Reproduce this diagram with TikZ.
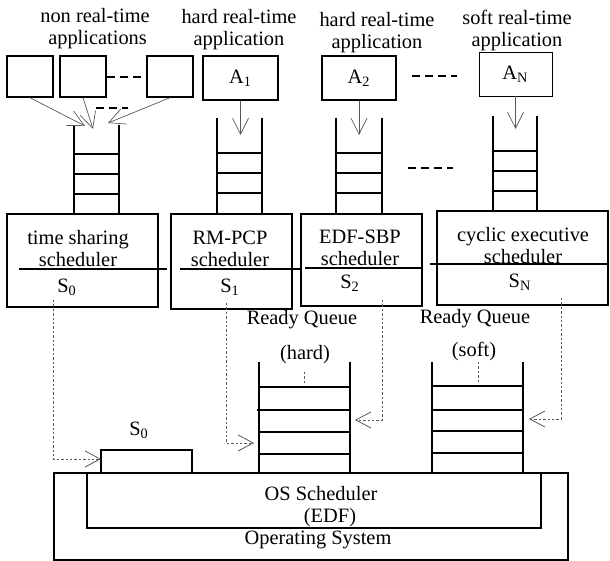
\documentclass[tikz,border=0pt]{standalone}
\usepackage{fontspec}
\setmainfont{Liberation Serif}
\usetikzlibrary{arrows.meta}
\begin{document}
\begin{tikzpicture}[x=0.5pt,y=-0.5pt,
  thk/.style={line width=0.7pt},
  box/.style={draw, line width=0.7pt, inner sep=0pt},
  thinbox/.style={draw, line width=0.4pt, inner sep=0pt},
  lbl/.style={inner sep=0pt, align=center, font=\fontsize{10.2}{11}\selectfont},
  arr/.style={draw=black!65, line width=0.35pt, -{Straight Barb[length=8pt,width=8pt]}},
  dotarr/.style={draw=black!65, line width=0.4pt, dash pattern=on 1.2pt off 1pt, -{Straight Barb[length=7.5pt,width=8pt]}},
  dotln/.style={draw=black!65, line width=0.4pt, dash pattern=on 1.2pt off 1pt},
  dsh/.style={line width=0.7pt, dash pattern=on 4pt off 2.5pt}]
\useasboundingbox (0,0) rectangle (610,561);

% top labels
\node[lbl] (l0) at (95,29) {non real-time\\\ applications};
\node[lbl] (l1) at (239,29.5) {hard real-time\\application};
\node[lbl] (l2) at (377,33) {hard real-time\\application};
\node[lbl] (l3) at (517,30.5) {soft real-time\\application};

% application boxes
\node[box, minimum width=23pt, minimum height=20.5pt] (b1) at (30,76.5) {};
\node[box, minimum width=23pt, minimum height=20.5pt] (b2) at (83,76.5) {};
\node[box, minimum width=23pt, minimum height=20.5pt] (b3) at (170,76.5) {};
\node[box, lbl, minimum width=37.5pt, minimum height=22pt] (A1) at (240.5,78) {A\textsubscript{1}};
\node[box, lbl, minimum width=37pt, minimum height=22pt] (A2) at (359,78) {A\textsubscript{2}};
\node[thinbox, lbl, minimum width=36.5pt, minimum height=22pt] (AN) at (515.5,74) {A\textsubscript{N}};

% dashes
\draw[dsh] (107,77) -- (142,77);
\draw[dsh] (96,108) -- (128,108);
\draw[dsh] (412,76) -- (457,76);
\draw[dsh] (408,168) -- (453,168);

% queues (top)
\draw[thk] (74,125) -- (74,213) (119,125) -- (119,213)
  (74,154) -- (119,154) (74,174) -- (119,174) (74,194) -- (119,194);
\draw[thk] (217,118) -- (217,213) (262,118) -- (262,213)
  (217,153) -- (262,153) (217,173) -- (262,173) (217,193) -- (262,193);
\draw[thk] (336,118) -- (336,213) (382,118) -- (382,213)
  (336,153) -- (382,153) (336,173) -- (382,173) (336,193) -- (382,193);
\draw[thk] (493,116) -- (493,211) (537,116) -- (537,211)
  (493,151) -- (537,151) (493,171) -- (537,171) (493,191) -- (537,191);

% arrow tips into queues
\coordinate (t1) at (85,126);
\coordinate (t2) at (93,129);
\coordinate (t3) at (108,123);
\coordinate (tA1) at (240.5,135);
\coordinate (tA2) at (359,135);
\coordinate (tAN) at (515.5,129);
\draw[arr] (b1.south) -- (t1);
\draw[arr] (b2.south) -- (t2);
\draw[arr] (b3.south) -- (t3);
\draw[arr] (A1.south) -- (tA1);
\draw[arr] (A2.south) -- (tA2);
\draw[arr] (AN.south) -- (tAN);

% scheduler boxes
\node[box, minimum width=75.5pt, minimum height=46.5pt] (S0) at (82.5,260.5) {};
\node[box, minimum width=60.5pt, minimum height=47.5pt] (S1) at (231.5,261.5) {};
\node[box, minimum width=60.5pt, minimum height=46pt] (S2) at (361.5,260) {};
\node[box, minimum width=85.5pt, minimum height=47pt] (SN) at (522.5,258) {};
\draw[thk] (19,269) -- (167,269);
\draw[thk] (180,269) -- (300,269);
\draw[thk] (305,268) -- (423,268);
\draw[thk] (430,264) -- (607,264);
\node[lbl] (s0t) at (78,248.5) {time sharing\\scheduler};
\node[lbl] (s1t) at (230,248.5) {RM-PCP\\scheduler};
\node[lbl] (s2t) at (360,248) {EDF-SBP\\scheduler};
\node[lbl] (sNt) at (523,245.5) {cyclic executive\\scheduler};
\node[lbl] (s0l) at (67,287) {S\textsubscript{0}};
\node[lbl] (s1l) at (230,287) {S\textsubscript{1}};
\node[lbl] (s2l) at (350,283) {S\textsubscript{2}};
\node[lbl] (sNl) at (520,282) {S\textsubscript{N}};

% ready queue labels
\node[lbl] (rq1) at (302,320) {Ready Queue};
\node[lbl] (rq2) at (475,319) {Ready Queue};
\node[lbl] (hd) at (305,355) {(hard)};
\node[lbl] (sf) at (474,351) {(soft)};
\coordinate (hd1) at (304,372); \coordinate (hd2) at (304,383);
\coordinate (sf1) at (478,362); \coordinate (sf2) at (478,383);
\draw[dotln] (hd1) -- (hd2);
\draw[dotln] (sf1) -- (sf2);

% lower queues
\draw[thk] (259,362) -- (259,473) (350,362) -- (350,473)
  (259,387) -- (350,387) (257,410) -- (350,410) (259,432) -- (350,432) (259,454) -- (350,454);
\draw[thk] (432,362) -- (432,473) (523,362) -- (523,473)
  (432,386) -- (523,386) (432,410) -- (523,410) (432,431) -- (523,431) (432,453) -- (523,453);

% S0 small box
\node[box, minimum width=45.5pt, minimum height=11.5pt] (s0box) at (146.5,461.5) {};
\node[lbl] (s0bl) at (139,430) {S\textsubscript{0}};

% OS boxes
\node[box, minimum width=257pt, minimum height=43.5pt] (os) at (311,516.5) {};
\draw[thk] (87,473) -- (87,528) -- (541,528) -- (541,473);
\node[lbl] (ost) at (321,494) {OS Scheduler};
\node[lbl] (edf) at (330,518) {(EDF)};
\node[lbl] (opt) at (318,540) {Operating System};

% dotted connectors
\coordinate (d0) at (53,300); \coordinate (e0) at (101,459);
\coordinate (d1) at (226,303); \coordinate (e1) at (254,443);
\coordinate (d2) at (382,300); \coordinate (e2) at (355,420);
\coordinate (dN) at (561,298); \coordinate (eN) at (529,419);
\draw[dotarr] (d0) |- (e0);
\draw[dotarr] (d1) |- (e1);
\draw[dotarr] (d2) |- (e2);
\draw[dotarr] (dN) |- (eN);
\end{tikzpicture}
\end{document}
